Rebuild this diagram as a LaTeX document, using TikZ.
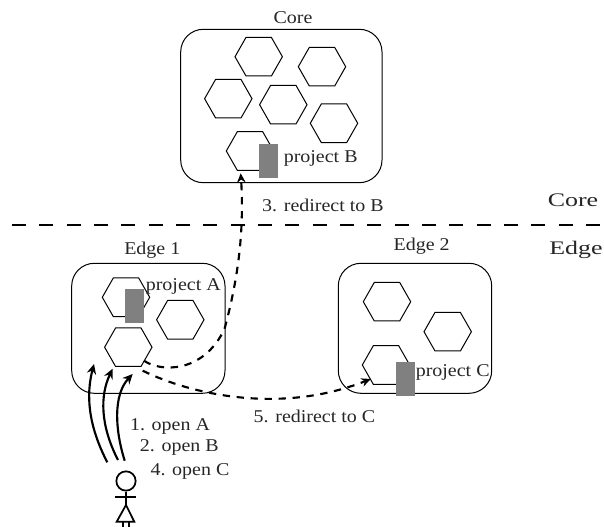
\documentclass[tikz,border=0pt]{standalone}
\usepackage{fontspec}
\usepackage{graphicx}
\setmainfont{Liberation Serif}
\usetikzlibrary{arrows.meta}
\definecolor{blockgrey}{RGB}{128,128,128}
\newcommand{\widetxt}[1]{\scalebox{1.11}[1]{#1}}
\newcommand{\widerzone}[1]{\scalebox{1.35}[1]{#1}}
\tikzset{
  x=0.75pt,y=-0.75pt,
  host/.style={draw=black,line width=0.75pt,rounded corners=17pt},
  hexa/.style={draw=black,line width=0.75pt},
  block/.style={fill=blockgrey,draw=none,minimum width=14.2pt,minimum height=25.5pt,inner sep=0pt},
  lbl/.style={font=\fontsize{13.5pt}{15pt}\selectfont,inner sep=0pt,text=black!85},
  zone/.style={font=\fontsize{14.4pt}{16pt}\selectfont,inner sep=0pt,text=black!85},
  open/.style={line width=1.6pt,-{Stealth[length=7.5pt,width=7pt]}},
  redir/.style={line width=1.6pt,dash pattern=on 5.5pt off 5pt,-{Stealth[length=7pt,width=6.5pt]}},
  stick/.style={line width=1.3pt,draw=black}
}
\newcommand{\hexat}[3]{%
  \coordinate (#1) at (#2,#3);
  \draw[hexa] (#2-23.7,#3) -- (#2-12.7,#3-19.3) -- (#2+12.7,#3-19.3) -- (#2+23.7,#3) -- (#2+12.7,#3+19.3) -- (#2-12.7,#3+19.3) -- cycle;
}
\begin{document}
\begin{tikzpicture}
\useasboundingbox (0,0) rectangle (604,527);
% Core site
\node[lbl] (coretitle) at (293,18) {\widetxt{Core}};
\draw[host] (180.7,29.3) rectangle (382,182.7);
\hexat{c1}{258.7}{56.7}
\hexat{c2}{322}{66.7}
\hexat{c3}{228.3}{98.7}
\hexat{c4}{283.3}{104.7}
\hexat{c5}{334}{123.3}
\hexat{c6}{250}{151}
\node[block] (pb) at (268.3,161) {};
\node[lbl] (pbt) at (320.7,158) {\widetxt{project B}};
% divider
\coordinate (divl) at (12,225);
\coordinate (divr) at (604,225);
\draw[line width=1.5pt,dash pattern=on 10.5pt off 10pt] (divl) -- (divr);
\node[zone] (zc) at (573,200) {\widerzone{Core}};
\node[zone] (ze) at (576,250) {\widerzone{Edge}};
% Edge 1
\node[lbl] (e1t) at (152.3,250) {\widetxt{Edge 1}};
\draw[host] (71.7,263.3) rectangle (225,393.3);
\hexat{a1}{126}{297.3}
\hexat{a2}{180.3}{319.8}
\hexat{a3}{128.3}{347.2}
\node[block] (pa) at (134.5,306) {};
\node[lbl] (pat) at (183.3,286.7) {\widetxt{project A}};
% Edge 2
\node[lbl] (e2t) at (421.7,246) {\widetxt{Edge 2}};
\draw[host] (338.3,263.3) rectangle (491.7,393.3);
\hexat{b1}{387}{301.7}
\hexat{b2}{447.7}{331.7}
\hexat{b3}{386}{365}
\node[block] (pc) at (405.5,379) {};
\node[lbl] (pct) at (452.7,372.7) {\widetxt{project C}};
% person
\node[circle,draw=black,line width=1.3pt,minimum size=14.5pt,inner sep=0pt] (head) at (126,481) {};
\coordinate (apex) at (126,505);
\coordinate (arml) at (115,497.3);
\coordinate (armr) at (136,497.3);
\coordinate (bl) at (116.7,521.7);
\coordinate (br) at (134.3,521.7);
\coordinate (ll) at (123.3,521.7);
\coordinate (lr) at (128.7,521.7);
\coordinate (lle) at (123.3,527);
\coordinate (lre) at (128.7,527);
\draw[stick] (head.south) -- (apex);
\draw[stick] (arml) -- (armr);
\draw[stick] (apex) -- (bl) -- (br) -- cycle;
\draw[stick] (ll) -- (lle);
\draw[stick] (lr) -- (lre);
% open arrows
\coordinate (s1) at (107.3,462.3);
\coordinate (t1) at (94,364);
\coordinate (s2) at (118,460);
\coordinate (t2) at (112.7,368.7);
\coordinate (s3) at (124.7,460.7);
\coordinate (t3) at (132.7,374);
\draw[open] (s1) .. controls (88,425) and (86,395) .. (t1);
\draw[open] (s2) .. controls (100,425) and (100,395) .. (t2);
\draw[open] (s3) .. controls (115,430) and (113,395) .. (t3);
\node[lbl] (o1) at (170,426) {\widetxt{1. open A}};
\node[lbl] (o2) at (179.3,447.7) {\widetxt{2. open B}};
\node[lbl] (o3) at (190,471) {\widetxt{4. open C}};
% redirects
\coordinate (r0) at (144,360.7);
\coordinate (r1) at (224.5,329);
\coordinate (rb) at (240.7,173.3);
\coordinate (q0) at (142.7,370.7);
\coordinate (qc) at (370.7,379);
\draw[redir] (r0) .. controls (160,372) and (203,374) .. (r1) .. controls (235,290) and (245,240) .. (rb);
\draw[redir] (q0) .. controls (190,394) and (280,415) .. (qc);
\node[lbl] (l3) at (323,205) {\widetxt{3. redirect to B}};
\node[lbl] (l5) at (314.5,416) {\widetxt{5. redirect to C}};
\end{tikzpicture}
\end{document}
